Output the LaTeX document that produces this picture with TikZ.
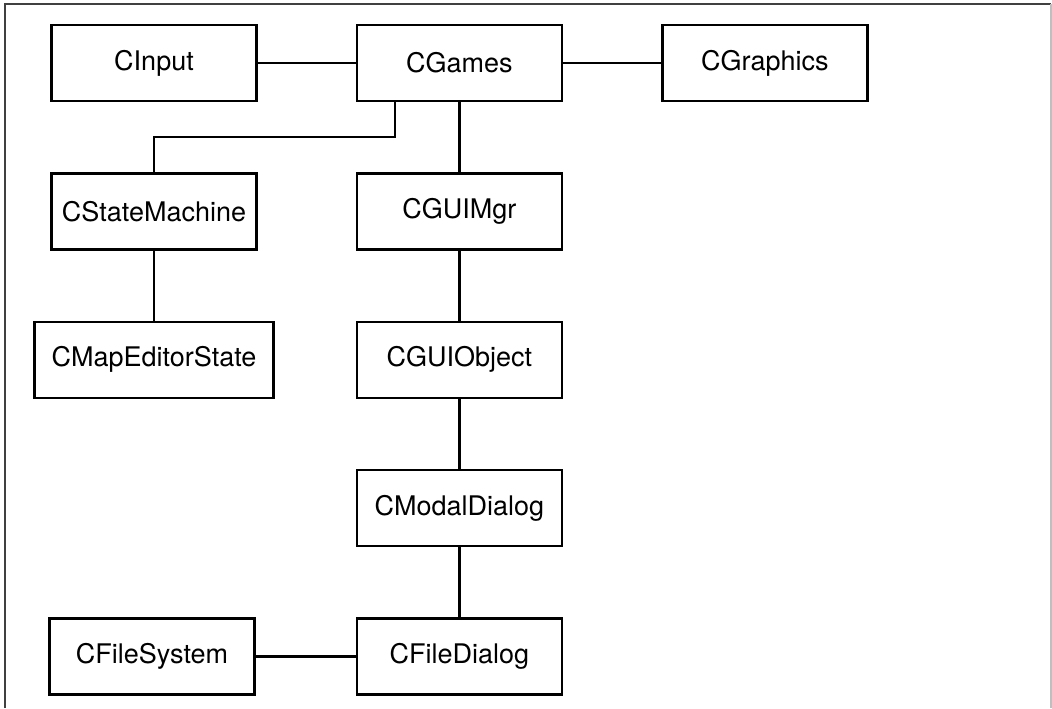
\documentclass[tikz,border=0pt]{standalone}
\usepackage{fontspec}
\setmainfont{TeX Gyre Heros}
\usepackage{tikz}
\usetikzlibrary{positioning}

\begin{document}
\begin{tikzpicture}[x=0.5pt, y=-0.5pt, node distance=35pt and 49pt, line width=1.2pt,
		cls/.style={draw, rectangle, minimum width=102.5pt, minimum height=38pt, inner sep=2pt, font=\fontsize{13.5}{16}\selectfont}]
			\useasboundingbox (0,0) rectangle (1052,708);
			% frame, open at the bottom
			\draw[line width=1pt, black!75] (4.5,708) -- (4.5,4) -- (1050.5,4);
			\draw[line width=1pt, black!25] (1050.5,4) -- (1050.5,708);
			\node (CInput) [cls] at (154,63) {CInput};
			\node (CGames) [cls, right=of CInput] {CGames};
			\node (CGraphics) [cls, right=of CGames] {CGraphics};
			\node (CStateMachine) [cls, below=of CInput] {CStateMachine};
			\node (CMapEditorState) [cls, minimum width=119.5pt, below=of CStateMachine] {CMapEditorState};
			\node (CGUIMgr) [cls, below=of CGames] {CGUIMgr};
			\node (CGUIObject) [cls, below=of CGUIMgr] {CGUIObject};
			\node (CModalDialog) [cls, below=of CGUIObject] {CModalDialog};
			\node (CFileDialog) [cls, below=of CModalDialog] {CFileDialog};
			\node (CFileSystem) [cls, left=50pt of CFileDialog] {CFileSystem};
			\draw (CInput) -- (CGames);
			\draw (CGames) -- (CGraphics);
			\draw ([xshift=19.5pt]CGames.south west) |- ([yshift=17.5pt]CStateMachine.north) -- (CStateMachine.north);
			\draw (CGames) -- (CGUIMgr);
			\draw (CStateMachine) -- (CMapEditorState);
			\draw (CGUIMgr) -- (CGUIObject);
			\draw (CGUIObject) -- (CModalDialog);
			\draw (CModalDialog) -- (CFileDialog);
			\draw (CFileSystem) -- (CFileDialog);
		\end{tikzpicture}
\end{document}
